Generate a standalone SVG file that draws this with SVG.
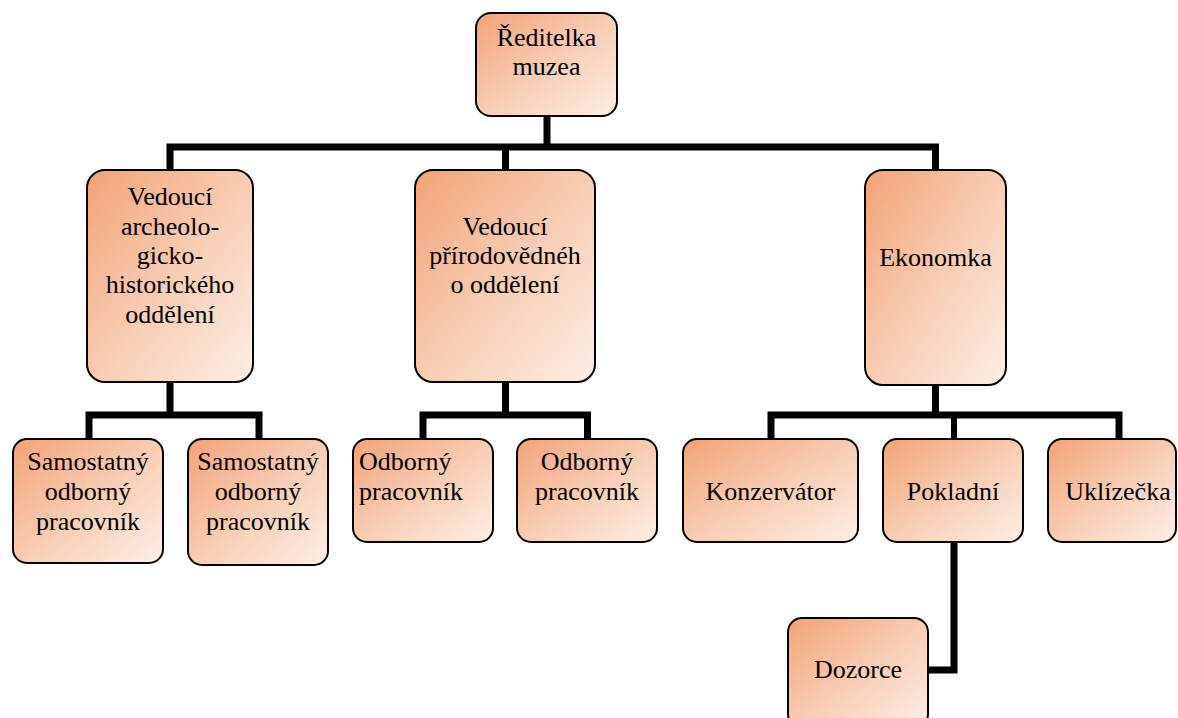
<svg xmlns="http://www.w3.org/2000/svg" width="1178" height="718" viewBox="0 0 1178 718">
<style>
.box{stroke:#000;stroke-width:2;fill:url(#g)}
text{font-family:'Liberation Serif','Times New Roman',serif;font-size:26px;fill:#000}
.t{text-anchor:middle}
.c{fill:none;stroke:#000;stroke-width:7;stroke-linejoin:miter;stroke-linecap:butt}
.c2{fill:none;stroke:#000;stroke-width:6;stroke-linejoin:miter;stroke-linecap:butt}
</style>
<defs>
<linearGradient id="g" x1="0" y1="0" x2="1" y2="1">
<stop offset="0" stop-color="#F2A376"/>
<stop offset="0.5" stop-color="#F8CCB2"/>
<stop offset="1" stop-color="#FDEFE7"/>
</linearGradient>
</defs>
<rect width="1178" height="718" fill="#fff"/>
<g id="connectors">
<path class="c" d="M547 116 V147 M170 170 V147 H935.5 V170 M505.5 147 V170"/>
<path class="c" d="M170 382 V415 M89 439 V415 H259 V439"/>
<path class="c" d="M505.5 382 V415 M423 439 V415 H587.5 V439"/>
<path class="c" d="M935.5 385 V415 M771 439 V415 H1119 V439"/>
<path class="c2" d="M954 415 V439"/>
<path class="c" d="M954 542 V670 H928"/>
</g>
<g id="n-reditelka">
<rect class="box" x="476" y="13" width="141" height="103" rx="15"/>
<text class="t" x="546.5" y="46">Ředitelka</text>
<text class="t" x="546.5" y="75">muzea</text>
</g>
<g id="n-archeo">
<rect class="box" x="87" y="170" width="166" height="212" rx="18"/>
<text class="t" x="170" y="205">Vedoucí</text>
<text class="t" x="170" y="235">archeolo-</text>
<text class="t" x="170" y="264">gicko-</text>
<text class="t" x="170" y="293">historického</text>
<text class="t" x="170" y="323">oddělení</text>
</g>
<g id="n-prirodo">
<rect class="box" x="415" y="170" width="180" height="212" rx="18"/>
<text class="t" x="505" y="235">Vedoucí</text>
<text class="t" x="505" y="264">přírodovědnéh</text>
<text class="t" x="505" y="293">o oddělení</text>
</g>
<g id="n-ekonomka">
<rect class="box" x="865" y="170" width="141" height="215" rx="18"/>
<text class="t" x="935.5" y="266">Ekonomka</text>
</g>
<g id="n-sam1">
<rect class="box" x="13" y="439" width="150" height="124" rx="14"/>
<text class="t" x="88" y="470">Samostatný</text>
<text class="t" x="88" y="500">odborný</text>
<text class="t" x="88" y="530">pracovník</text>
</g>
<g id="n-sam2">
<rect class="box" x="188" y="439" width="140" height="126" rx="14"/>
<text class="t" x="258" y="470">Samostatný</text>
<text class="t" x="258" y="500">odborný</text>
<text class="t" x="258" y="530">pracovník</text>
</g>
<g id="n-odb1">
<rect class="box" x="353" y="439" width="140" height="103" rx="14"/>
<text x="359" y="470">Odborný</text>
<text x="359" y="500">pracovník</text>
</g>
<g id="n-odb2">
<rect class="box" x="517" y="439" width="140" height="103" rx="14"/>
<text class="t" x="587" y="470">Odborný</text>
<text class="t" x="587" y="500">pracovník</text>
</g>
<g id="n-konzervator">
<rect class="box" x="683" y="439" width="175" height="103" rx="14"/>
<text class="t" x="770.5" y="500">Konzervátor</text>
</g>
<g id="n-pokladni">
<rect class="box" x="883" y="439" width="140" height="103" rx="14"/>
<text class="t" x="953" y="500">Pokladní</text>
</g>
<g id="n-uklizecka">
<rect class="box" x="1048" y="439" width="128" height="103" rx="14"/>
<text class="t" x="1118" y="500">Uklízečka</text>
</g>
<g id="n-dozorce">
<rect class="box" x="788" y="618" width="140" height="110" rx="14"/>
<text class="t" x="858" y="678">Dozorce</text>
</g>
</svg>
